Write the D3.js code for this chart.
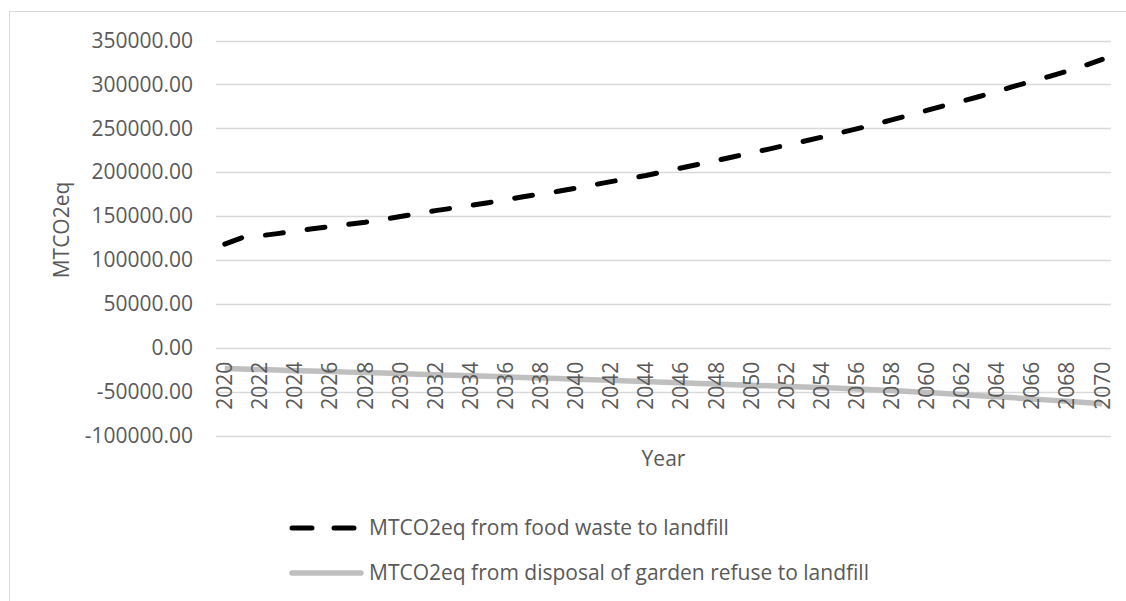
<!DOCTYPE html>
<html lang="en">
<head>
	<meta charset="utf-8">
	<title>MTCO2eq landfill</title>
	<script src="https://cdn.jsdelivr.net/npm/d3@7"></script>
	<style>
		body { margin: 0; background: white; }
		text { font-family: "Open Sans", sans-serif; fill: #595959; }
	</style>
</head>
<body>
	<script>
		var w = 1126;
		var h = 601;

		// years on the category axis
		var years = d3.range(2020, 2071);

		// MTCO2eq from food waste to landfill
		var foodWaste = [
			118000, 125500, 127500, 130000, 132800, 135600, 138000, 140500, 143000, 146000,
			149400, 152800, 156200, 159000, 162000, 165200, 168600, 172000, 175000, 178200,
			181800, 185500, 189200, 192800, 196200, 200500, 204800, 209000, 213200, 217600,
			222000, 226300, 230800, 235200, 239800, 244600, 249300, 254200, 259500, 264800,
			270300, 275800, 280800, 286200, 292000, 298000, 303500, 309200, 315000, 321500,
			328500
		];

		// MTCO2eq from disposal of garden refuse to landfill
		var gardenRefuse = [
			-23700, -24300, -24900, -25500, -26100, -26600, -27200, -27800, -28300, -28900,
			-29500, -30100, -30700, -31300, -31900, -32500, -33200, -33900, -34500, -35200,
			-35900, -36600, -37200, -37900, -38600, -39300, -40000, -40700, -41400, -42100,
			-42700, -43400, -44100, -44700, -45400, -46200, -47000, -47900, -48800, -49800,
			-51000, -52200, -53400, -54600, -55900, -57100, -58400, -59700, -61000, -62400,
			-63800
		];

		var yTicks = [-100000, -50000, 0, 50000, 100000, 150000, 200000, 250000, 300000, 350000];
		var legendLabels = [
			"MTCO2eq from food waste to landfill",
			"MTCO2eq from disposal of garden refuse to landfill"
		];

		var plot = { left: 216, right: 1111, top: 40.5, bottom: 435.5 };
		var fs = "21px";

		var svg = d3.select("body")
					.append("svg")
					.attr("width", w)
					.attr("height", h);

		// chart border (runs off the right and bottom of the picture)
		svg.append("rect")
		   .attr("x", 9.5).attr("y", 11.5)
		   .attr("width", w + 20).attr("height", h + 20)
		   .attr("fill", "white")
		   .attr("stroke", "#d9d9d9")
		   .attr("stroke-width", 1);

		var x = d3.scaleBand()
				  .domain(years)
				  .range([plot.left, plot.right])
				  .padding(0);

		var y = d3.scaleLinear()
				  .domain([-100000, 350000])
				  .range([plot.bottom, plot.top]);

		var cx = function(yr) { return x(yr) + x.bandwidth() / 2; };

		// plain hyphen for negatives, like the original
		var fmt = d3.formatLocale({ decimal: ".", thousands: "", grouping: [3], currency: ["", ""], minus: "-" })
					.format(".2f");

		// horizontal gridlines
		svg.append("g")
		   .selectAll("line")
		   .data(yTicks)
		   .enter()
		   .append("line")
		   .attr("x1", plot.left).attr("x2", plot.right)
		   .attr("y1", function(d) { return Math.round(y(d)) + 0.5; })
		   .attr("y2", function(d) { return Math.round(y(d)) + 0.5; })
		   .attr("stroke", "#d9d9d9")
		   .attr("stroke-width", 1.3);

		// y axis labels
		var yAxis = d3.axisLeft(y)
					  .tickValues(yTicks)
					  .tickFormat(fmt)
					  .tickSize(0)
					  .tickPadding(23);

		var yg = svg.append("g")
					.attr("transform", "translate(" + plot.left + ",0)")
					.call(yAxis);
		yg.select(".domain").remove();
		yg.selectAll("text")
		  .attr("font-family", null)
		  .style("font-size", fs);

		// lines
		var line = d3.line()
					 .x(function(d, i) { return cx(years[i]); })
					 .y(function(d) { return y(d); });

		svg.append("path")
		   .datum(gardenRefuse)
		   .attr("d", line)
		   .attr("fill", "none")
		   .attr("stroke", "#bfbfbf")
		   .attr("stroke-width", 5.5)
		   .attr("stroke-linejoin", "round");

		// category labels, every other year, rotated
		svg.append("g")
		   .selectAll("text")
		   .data(years.filter(function(d, i) { return i % 2 === 0; }))
		   .enter()
		   .append("text")
		   .attr("transform", function(d) { return "translate(" + cx(d) + "," + (y(0) + 14) + ") rotate(-90)"; })
		   .attr("text-anchor", "end")
		   .attr("dy", "0.35em")
		   .style("font-size", fs)
		   .text(function(d) { return d; });

		svg.append("path")
		   .datum(foodWaste)
		   .attr("d", line)
		   .attr("fill", "none")
		   .attr("stroke", "#000")
		   .attr("stroke-width", 5)
		   .attr("stroke-linecap", "round")
		   .attr("stroke-linejoin", "round")
		   .attr("stroke-dasharray", "18,24");

		// axis titles
		svg.append("text")
		   .attr("x", (plot.left + plot.right) / 2)
		   .attr("y", 466)
		   .attr("text-anchor", "middle")
		   .style("font-size", fs)
		   .text("Year");

		svg.append("text")
		   .attr("transform", "translate(69," + 230 + ") rotate(-90)")
		   .attr("text-anchor", "middle")
		   .style("font-size", fs)
		   .text("MTCO2eq");

		// legend
		var legend = svg.append("g");
		legend.append("line")
			  .attr("x1", 292).attr("x2", 354)
			  .attr("y1", 528).attr("y2", 528)
			  .attr("stroke", "#000")
			  .attr("stroke-width", 5)
			  .attr("stroke-linecap", "round")
			  .attr("stroke-dasharray", "20,22");
		legend.append("line")
			  .attr("x1", 292).attr("x2", 361)
			  .attr("y1", 573).attr("y2", 573)
			  .attr("stroke", "#bfbfbf")
			  .attr("stroke-width", 5.5)
			  .attr("stroke-linecap", "round");

		legend.selectAll("text")
			  .data(legendLabels)
			  .enter()
			  .append("text")
			  .attr("x", 369)
			  .attr("y", function(d, i) { return 528 + i * 45; })
			  .attr("dy", "0.35em")
			  .style("font-size", fs)
			  .text(function(d) { return d; });
	</script>
</body>
</html>
